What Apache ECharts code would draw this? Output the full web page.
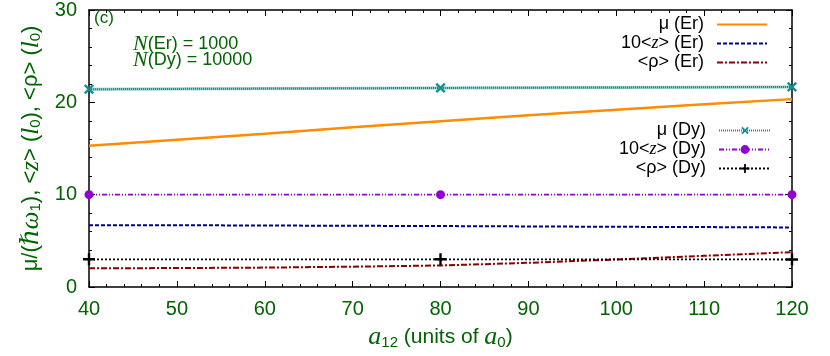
<!DOCTYPE html>
<html><head><meta charset="utf-8">
<script src="https://cdn.jsdelivr.net/npm/echarts@6/dist/echarts.min.js"></script>
<style>html,body{margin:0;padding:0;background:#fff}#c{width:830px;height:356px}</style>
</head><body><div id="c"></div>
<script>
// ---- data ----
const xEr = [40, 50, 60, 70, 80, 90, 100, 110, 120];
const muEr = [15.3, 15.95, 16.6, 17.3, 17.95, 18.6, 19.2, 19.8, 20.35];
const zEr = [6.7, 6.69, 6.66, 6.63, 6.6, 6.56, 6.52, 6.49, 6.45];
const rhoEr = [2.03, 2.05, 2.1, 2.2, 2.33, 2.62, 2.98, 3.38, 3.78];
const xDy = [40, 80, 120];
const muDy = [21.42, 21.56, 21.67];
const zDy = [10.0, 10.0, 10.0];
const rhoDy = [3.0, 3.0, 2.98];
const xTicks = [40, 50, 60, 70, 80, 90, 100, 110, 120];
const yTicks = [0, 10, 20, 30];

const GREEN = '#006400';
const SANS = '"Liberation Sans", Arial, sans-serif';
const SERIF = '"Liberation Serif", "DejaVu Serif", serif';
const pair = (xs, ys) => xs.map((x, i) => [x, ys[i]]);
const PLUS = 'path://M4,0 L6,0 L6,4 L10,4 L10,6 L6,6 L6,10 L4,10 L4,6 L0,6 L0,4 L4,4 Z';

const chart = echarts.init(document.getElementById('c'), null, {renderer: 'canvas'});
const axisCommon = {
  axisLine: {show: true, onZero: false, lineStyle: {color: '#000', width: 1.5}},
  axisTick: {show: true, inside: true, length: 6, lineStyle: {color: '#000', width: 1}},
  minorTick: {show: true, splitNumber: 5, length: 3, lineStyle: {color: '#000', width: 1}},
  splitLine: {show: false}
};
const legendText = {color: '#000', fontFamily: SANS, fontSize: 18, lineHeight: 19, padding: [0, 8, 0, 0],
  rich: {i: {fontFamily: SERIF, fontStyle: 'italic', fontSize: 18, lineHeight: 19}}};
const noSym = {opacity: 0};
const option = {
  animation: false,
  grid: {left: 89, right: 38, top: 10, bottom: 69},
  xAxis: [
    Object.assign({type: 'value', min: xTicks[0], max: xTicks[xTicks.length - 1], interval: 10,
      name: '{i|a}{s|12} (units of {i|a}{s|0})', nameLocation: 'middle', nameGap: 27,
      nameTextStyle: {color: GREEN, fontFamily: SANS, fontSize: 21,
        rich: {i: {fontFamily: SERIF, fontStyle: 'italic', fontSize: 26, color: GREEN},
               s: {fontSize: 15, color: GREEN, verticalAlign: 'bottom', padding: [10, 0, 0, 0]}}},
      axisLabel: {color: GREEN, fontFamily: SANS, fontSize: 20, margin: 12}}, axisCommon),
    Object.assign({type: 'value', position: 'top', min: 40, max: 120, interval: 10,
      axisLabel: {show: false}}, axisCommon)
  ],
  yAxis: [
    Object.assign({type: 'value', min: yTicks[0], max: yTicks[yTicks.length - 1], interval: 10,
      name: 'μ/({i|ℏω}{s|1}), <{i|z}> ({i|l}{s|0}), <ρ> ({i|l}{s|0})',
      nameLocation: 'middle', nameGap: 43,
      nameTextStyle: {color: GREEN, fontFamily: SANS, fontSize: 22,
        rich: {i: {fontFamily: SERIF, fontStyle: 'italic', fontSize: 25, color: GREEN},
               s: {fontSize: 15, color: GREEN, verticalAlign: 'bottom', padding: [9, 0, 0, 0]}}},
      axisLabel: {color: GREEN, fontFamily: SANS, fontSize: 20, margin: 12}}, axisCommon),
    Object.assign({type: 'value', position: 'right', min: 0, max: 30, interval: 10,
      axisLabel: {show: false}}, axisCommon)
  ],
  legend: [
    {orient: 'vertical', align: 'right', right: 62, top: 15, padding: 0, itemWidth: 50, itemHeight: 10, itemGap: 0,
     textStyle: legendText,
     data: [{name: 'μ (Er)', itemStyle: noSym}, {name: '10<z> (Er)', itemStyle: noSym}, {name: '<ρ> (Er)', itemStyle: noSym}],
     formatter: n => n.replace('<z>', '<{i|z}>')},
    {orient: 'vertical', align: 'right', right: 58, top: 121, padding: 0, itemWidth: 52, itemHeight: 11, itemGap: 0,
     textStyle: legendText,
     data: ['μ (Dy)', '10<z> (Dy)', '<ρ> (Dy)'],
     formatter: n => n.replace('<z>', '<{i|z}>')}
  ],
  graphic: [
    {type: 'text', left: 94, top: 10, style: {text: '(c)', fill: GREEN, font: '17px ' + SANS}},
    {type: 'text', left: 133, top: 33, style: {
      text: '{i|N}(Er) = 1000\n{i|N}(Dy) = 10000', fill: GREEN, font: '18px ' + SANS, lineHeight: 16,
      rich: {i: {fontFamily: SERIF, fontStyle: 'italic', fontSize: 22, fill: GREEN, lineHeight: 16}}}}
  ],
  series: [
    {name: 'μ (Er)', type: 'line', data: pair(xEr, muEr), symbol: 'none', z: 3,
     lineStyle: {color: '#ff8c00', width: 2.4, type: 'solid'}, itemStyle: {color: '#ff8c00'}},
    {name: '10<z> (Er)', type: 'line', data: pair(xEr, zEr), symbol: 'none',
     lineStyle: {color: '#00008b', width: 2, type: [4, 2]}, itemStyle: {color: '#00008b'}},
    {name: '<ρ> (Er)', type: 'line', data: pair(xEr, rhoEr), symbol: 'none',
     lineStyle: {color: '#8b0000', width: 2, type: [6, 2, 2, 2]}, itemStyle: {color: '#8b0000'}},
    {name: 'μ (Dy) band', type: 'line', data: pair(xDy, muDy), symbol: 'none', silent: true, z: 1,
     lineStyle: {color: '#8fcaca', width: 3, type: 'solid'}},
    {name: 'μ (Dy)', type: 'line', data: pair(xDy, muDy), symbol: PLUS, symbolRotate: 45, symbolSize: 12,
     lineStyle: {color: '#138f8f', width: 2, type: [1, 1]}, itemStyle: {color: '#138f8f'}},
    {name: '10<z> (Dy)', type: 'line', data: pair(xDy, zDy), symbol: 'circle', symbolSize: 9,
     lineStyle: {color: '#9400d3', width: 1.6, type: [5, 2, 1, 2, 1, 2]}, itemStyle: {color: '#9400d3'}},
    {name: '<ρ> (Dy)', type: 'line', data: pair(xDy, rhoDy), symbol: PLUS, symbolSize: 12,
     lineStyle: {color: '#000', width: 1.8, type: [2, 2]}, itemStyle: {color: '#000'}}
  ]
};
chart.setOption(option);
</script></body></html>
